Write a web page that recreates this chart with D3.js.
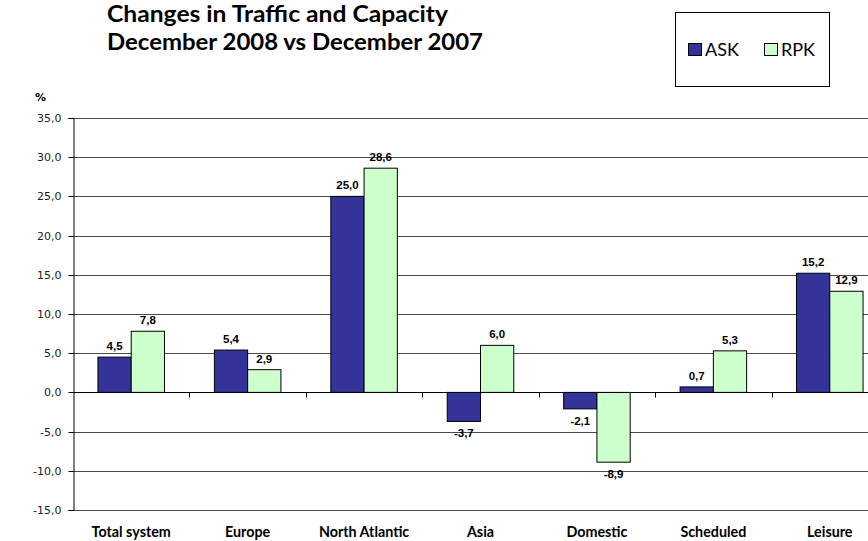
<!DOCTYPE html>
<html>
<head>
<meta charset="utf-8">
<script src="https://cdn.jsdelivr.net/npm/d3@7"></script>
<style>
  html, body { margin: 0; padding: 0; background: #fff; }
  svg { display: block; }
</style>
</head>
<body>
<svg id="chart" width="868" height="541"></svg>
<script>
const categories = ["Total system", "Europe", "North Atlantic", "Asia", "Domestic", "Scheduled", "Leisure"];
const seriesNames = ["ASK", "RPK"];
const askValues = [4.5, 5.4, 25.0, -3.7, -2.1, 0.7, 15.2];
const rpkValues = [7.8, 2.9, 28.6, 6.0, -8.9, 5.3, 12.9];
const yTicks = [-15, -10, -5, 0, 5, 10, 15, 20, 25, 30, 35];
const colors = ["#333399", "#CCFFCC"];
const titleLines = ["Changes in Traffic and Capacity", "December 2008 vs December 2007"];

const svg = d3.select("#chart");
const plotLeft = 73, plotRight = 888, plotTop = 118, plotBottom = 510;
const humanist = "Lato, 'Open Sans', sans-serif";

const x = d3.scaleBand().domain(categories).range([plotLeft, plotRight]).paddingInner(0).paddingOuter(0);
const xs = d3.scaleBand().domain(seriesNames).range([0, x.bandwidth()]).paddingInner(0).paddingOuter(0.75);
const y = d3.scaleLinear().domain([-15, 35]).range([plotBottom, plotTop]);

const fmt = v => d3.format(".1f")(v).replace(".", ",").replace("−", "-");

// gridlines
svg.append("g").selectAll("line").data(yTicks.filter(t => t !== 0)).join("line")
  .attr("x1", plotLeft).attr("x2", plotRight)
  .attr("y1", d => Math.round(y(d)) + 0.5).attr("y2", d => Math.round(y(d)) + 0.5)
  .attr("stroke", "#4a4a4a").attr("stroke-width", 1);

// y axis
const yAxis = d3.axisLeft(y).tickValues(yTicks).tickSize(5).tickPadding(7).tickFormat(fmt);
const gy = svg.append("g").attr("transform", `translate(${plotLeft + 0.5},0)`).call(yAxis);
gy.select(".domain").attr("stroke", "#000");
gy.selectAll(".tick line").attr("stroke", "#000");
gy.selectAll("text").attr("font-family", "'DejaVu Sans', Verdana, sans-serif").attr("font-size", 11).attr("fill", "#222");
gy.selectAll(".tick").attr("transform", d => `translate(0,${Math.round(y(d)) + 0.5})`);

// bars
const data = [];
categories.forEach((c, i) => {
  data.push({ cat: c, s: "ASK", v: askValues[i], color: colors[0] });
  data.push({ cat: c, s: "RPK", v: rpkValues[i], color: colors[1] });
});

svg.append("g").selectAll("rect").data(data).join("rect")
  .attr("x", d => x(d.cat) + xs(d.s))
  .attr("width", xs.bandwidth())
  .attr("y", d => y(Math.max(0, d.v)))
  .attr("height", d => Math.abs(y(d.v) - y(0)))
  .attr("fill", d => d.color)
  .attr("stroke", "#000").attr("stroke-width", 1);

// x axis at zero
const y0 = Math.round(y(0)) + 0.5;
svg.append("line").attr("x1", plotLeft).attr("x2", plotRight).attr("y1", y0).attr("y2", y0).attr("stroke", "#000");
svg.append("g").selectAll("line").data(categories.slice(1)).join("line")
  .attr("x1", d => Math.round(x(d)) + 0.5).attr("x2", d => Math.round(x(d)) + 0.5)
  .attr("y1", y0).attr("y2", y0 + 5).attr("stroke", "#000");

// data labels
svg.append("g").selectAll("text").data(data).join("text")
  .attr("x", d => x(d.cat) + xs(d.s) + xs.bandwidth() / 2)
  .attr("y", d => d.v >= 0 ? y(d.v) - 7 : y(d.v) + 16)
  .attr("text-anchor", "middle")
  .attr("font-family", "'Liberation Sans', Arial, sans-serif")
  .attr("font-weight", "bold").attr("font-size", 11.5).attr("fill", "#000")
  .text(d => fmt(d.v));

// category labels
svg.append("g").selectAll("text").data(categories).join("text")
  .attr("x", d => x(d) + x.bandwidth() / 2)
  .attr("y", 537)
  .attr("text-anchor", "middle")
  .attr("font-family", humanist).attr("font-weight", "bold").attr("font-size", 14.3).attr("fill", "#000")
  .text(d => d);

// % label
svg.append("text").attr("x", 35).attr("y", 101).attr("font-family", "'DejaVu Sans', Verdana, sans-serif")
  .attr("font-weight", "bold").attr("font-size", 11).text("%");

// title
const titleWidths = [341, 376];
svg.append("g").selectAll("text").data(titleLines).join("text")
  .attr("x", 107).attr("y", (d, i) => 22 + i * 28)
  .attr("font-family", humanist).attr("font-weight", "bold").attr("font-size", 22).attr("fill", "#000")
  .attr("textLength", (d, i) => titleWidths[i]).attr("lengthAdjust", "spacingAndGlyphs")
  .text(d => d);

// legend
const lg = svg.append("g");
lg.append("rect").attr("x", 675.5).attr("y", 12.5).attr("width", 154).attr("height", 74).attr("fill", "#fff").attr("stroke", "#000");
const legendItems = seriesNames.map((s, i) => ({ s, color: colors[i] }));
const li = lg.selectAll("g").data(legendItems).join("g")
  .attr("transform", (d, i) => `translate(${688 + i * 76},0)`);
li.append("rect").attr("x", 0.5).attr("y", 43.5).attr("width", 13).attr("height", 12).attr("fill", d => d.color).attr("stroke", "#000");
li.append("text").attr("x", 17).attr("y", 56).attr("font-family", humanist).attr("font-size", 18).attr("fill", "#000").text(d => d.s);
</script>
</body>
</html>
